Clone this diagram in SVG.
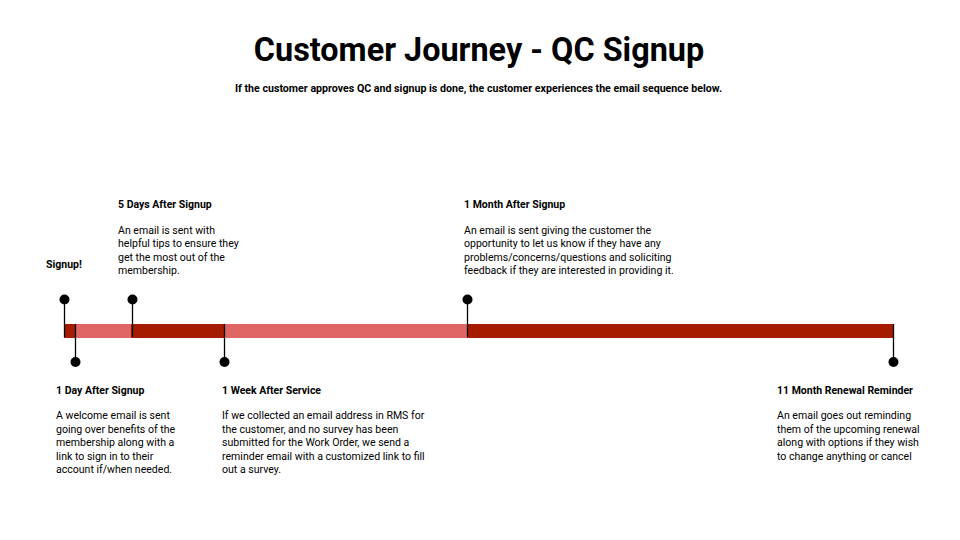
<svg xmlns="http://www.w3.org/2000/svg" width="960" height="540" viewBox="0 0 960 540">
<style>
text{font-family:Roboto,"Liberation Sans",sans-serif;fill:#000}
.title{font-size:32.4px;font-weight:700}
.sub{font-size:10.65px;font-weight:700}
.h{font-size:10.5px;font-weight:700}
.b{font-size:10.55px}
.stem{stroke:#000;stroke-width:1.3}
.dot{fill:#000}
.dark{fill:#A61C00}
.light{fill:#E06666}
</style>
<rect width="960" height="540" fill="#fff"/>
<text class="title" x="479" y="61" text-anchor="middle">Customer Journey - QC Signup</text>
<text class="sub" x="478.5" y="92" text-anchor="middle">If the customer approves QC and signup is done, the customer experiences the email sequence below.</text>
<g id="timeline">
<rect class="dark" x="64" y="324" width="11" height="14"/>
<rect class="light" x="75" y="324" width="56" height="14"/>
<rect class="dark" x="131" y="324" width="93" height="14"/>
<rect class="light" x="224" y="324" width="243" height="14"/>
<rect class="dark" x="467" y="324" width="427" height="14"/>
</g>
<g id="connectors">
<line class="stem" x1="64.5" y1="300" x2="64.5" y2="337"/>
<line class="stem" x1="75.5" y1="324" x2="75.5" y2="362"/>
<line class="stem" x1="132.5" y1="300" x2="132.5" y2="337"/>
<line class="stem" x1="224.5" y1="324" x2="224.5" y2="362"/>
<line class="stem" x1="467.5" y1="300" x2="467.5" y2="337"/>
<line class="stem" x1="893.5" y1="324" x2="893.5" y2="362"/>
</g>
<g id="signup">
<circle class="dot" cx="64.5" cy="299.5" r="5"/>
<text class="h" x="46" y="268">Signup!</text>
</g>
<g id="day1">
<circle class="dot" cx="75.5" cy="362" r="5"/>
<text class="h" x="56" y="394">1 Day After Signup</text>
<text class="b" x="56" y="419">A welcome email is sent</text>
<text class="b" x="56" y="432.5">going over benefits of the</text>
<text class="b" x="56" y="446">membership along with a</text>
<text class="b" x="56" y="459.5">link to sign in to their</text>
<text class="b" x="56" y="473">account if/when needed.</text>
</g>
<g id="day5">
<circle class="dot" cx="132.5" cy="299.5" r="5"/>
<text class="h" x="118" y="208">5 Days After Signup</text>
<text class="b" x="118" y="233.5">An email is sent with</text>
<text class="b" x="118" y="247">helpful tips to ensure they</text>
<text class="b" x="118" y="260.5">get the most out of the</text>
<text class="b" x="118" y="274">membership.</text>
</g>
<g id="week1">
<circle class="dot" cx="224.5" cy="362" r="5"/>
<text class="h" x="222" y="394">1 Week After Service</text>
<text class="b" x="222" y="419">If we collected an email address in RMS for</text>
<text class="b" x="222" y="432.5">the customer, and no survey has been</text>
<text class="b" x="222" y="446">submitted for the Work Order, we send a</text>
<text class="b" x="222" y="459.5">reminder email with a customized link to fill</text>
<text class="b" x="222" y="473">out a survey.</text>
</g>
<g id="month1">
<circle class="dot" cx="467.5" cy="299.5" r="5"/>
<text class="h" x="464" y="208">1 Month After Signup</text>
<text class="b" x="464" y="233.5">An email is sent giving the customer the</text>
<text class="b" x="464" y="247">opportunity to let us know if they have any</text>
<text class="b" x="464" y="260.5">problems/concerns/questions and soliciting</text>
<text class="b" x="464" y="274">feedback if they are interested in providing it.</text>
</g>
<g id="month11">
<circle class="dot" cx="893.5" cy="362" r="5"/>
<text class="h" x="777" y="394">11 Month Renewal Reminder</text>
<text class="b" x="777" y="419">An email goes out reminding</text>
<text class="b" x="777" y="432.5">them of the upcoming renewal</text>
<text class="b" x="777" y="446">along with options if they wish</text>
<text class="b" x="777" y="459.5">to change anything or cancel</text>
</g>
</svg>
